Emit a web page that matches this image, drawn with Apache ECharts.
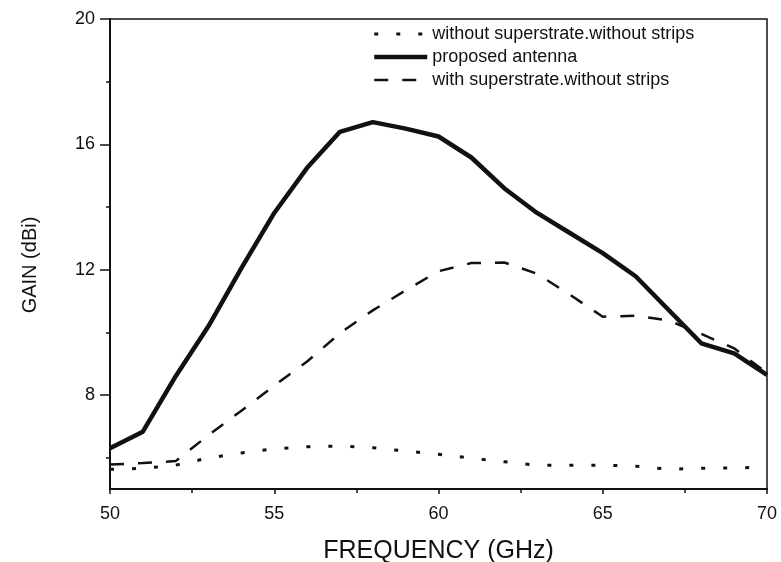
<!DOCTYPE html>
<html>
<head>
<meta charset="utf-8">
<script src="https://cdn.jsdelivr.net/npm/echarts@6/dist/echarts.min.js"></script>
<style>html,body{margin:0;padding:0;background:#fff}#c{width:781px;height:562px}</style>
</head>
<body>
<div id="c"></div>
<script>
const freqs = [50,51,52,53,54,55,56,57,58,59,60,61,62,63,64,65,66,67,68,69,70];
const withoutSuperstrate = [5.63,5.66,5.76,5.99,6.15,6.28,6.35,6.37,6.32,6.21,6.11,5.98,5.87,5.76,5.76,5.76,5.73,5.63,5.66,5.67,5.70];
const proposedAntenna = [6.3,6.83,8.6,10.2,12.05,13.81,15.25,16.4,16.71,16.5,16.25,15.58,14.6,13.81,13.17,12.53,11.79,10.72,9.65,9.33,8.64];
const withSuperstrate = [5.78,5.83,5.89,6.72,7.5,8.3,9.07,9.97,10.7,11.34,11.95,12.21,12.23,11.87,11.2,10.5,10.53,10.38,9.95,9.49,8.7];
const yMajorTicks = [8,12,16,20];
const yMinorTicks = [6,10,14,18];
const names = ['without superstrate.without strips','proposed antenna','with superstrate.without strips'];

const pair = arr => freqs.map((f,i)=>[f,arr[i]]);
const font = 'Liberation Sans, Arial, sans-serif';
const ink = '#111';
const lineWidths = [3,4.5,2.5];
const chart = echarts.init(document.getElementById('c'));
chart.setOption({
  animation:false,
  backgroundColor:'#fff',
  grid:{left:110,right:14,top:19,bottom:73,outerBoundsMode:'none',containLabel:false,show:true,borderColor:ink,borderWidth:1.5,backgroundColor:'transparent'},
  legend:{
    orient:'vertical',left:367,top:20,itemWidth:53,itemHeight:14,itemGap:5,
    data:names.map((n,i)=>({name:n,lineStyle:{width:lineWidths[i]}})),
    itemStyle:{opacity:0},
    textStyle:{fontFamily:font,fontSize:18,lineHeight:16,color:ink}
  },
  xAxis:{
    type:'value',min:50,max:70,interval:5,
    name:'FREQUENCY (GHz)',nameLocation:'middle',nameGap:50,
    nameTextStyle:{fontFamily:font,fontSize:25,color:ink},
    axisLine:{lineStyle:{color:ink,width:2}},
    axisTick:{inside:false,length:5,lineStyle:{color:ink,width:1.5}},
    minorTick:{show:true,splitNumber:2,length:4,lineStyle:{color:ink,width:1.5}},
    axisLabel:{fontFamily:font,fontSize:18,color:ink,margin:16},
    splitLine:{show:false}
  },
  yAxis:[{
    type:'value',min:5,max:20,
    name:'GAIN (dBi)',nameLocation:'middle',nameRotate:90,nameGap:70,
    nameTextStyle:{fontFamily:font,fontSize:20,color:ink,padding:[0,22,0,0]},
    axisLine:{show:true,lineStyle:{color:ink,width:2}},
    axisTick:{show:true,inside:false,length:10,customValues:yMajorTicks,lineStyle:{color:ink,width:1.5}},
    axisLabel:{fontFamily:font,fontSize:18,color:ink,margin:15,customValues:yMajorTicks},
    splitLine:{show:false}
  },{
    type:'value',min:5,max:20,position:'left',
    axisLine:{show:false},
    axisTick:{show:true,inside:false,length:4,customValues:yMinorTicks,lineStyle:{color:ink,width:1.5}},
    axisLabel:{show:false,customValues:yMinorTicks},
    splitLine:{show:false}
  }],
  series:[
    {name:names[0],type:'line',data:pair(withoutSuperstrate),symbol:'none',
     lineStyle:{color:ink,width:lineWidths[0],type:[4,18]},itemStyle:{color:ink}},
    {name:names[1],type:'line',data:pair(proposedAntenna),symbol:'none',
     lineStyle:{color:ink,width:lineWidths[1],type:'solid'},itemStyle:{color:ink}},
    {name:names[2],type:'line',data:pair(withSuperstrate),symbol:'none',
     lineStyle:{color:ink,width:lineWidths[2],type:[14,14]},itemStyle:{color:ink}}
  ]
});
</script>
</body>
</html>
